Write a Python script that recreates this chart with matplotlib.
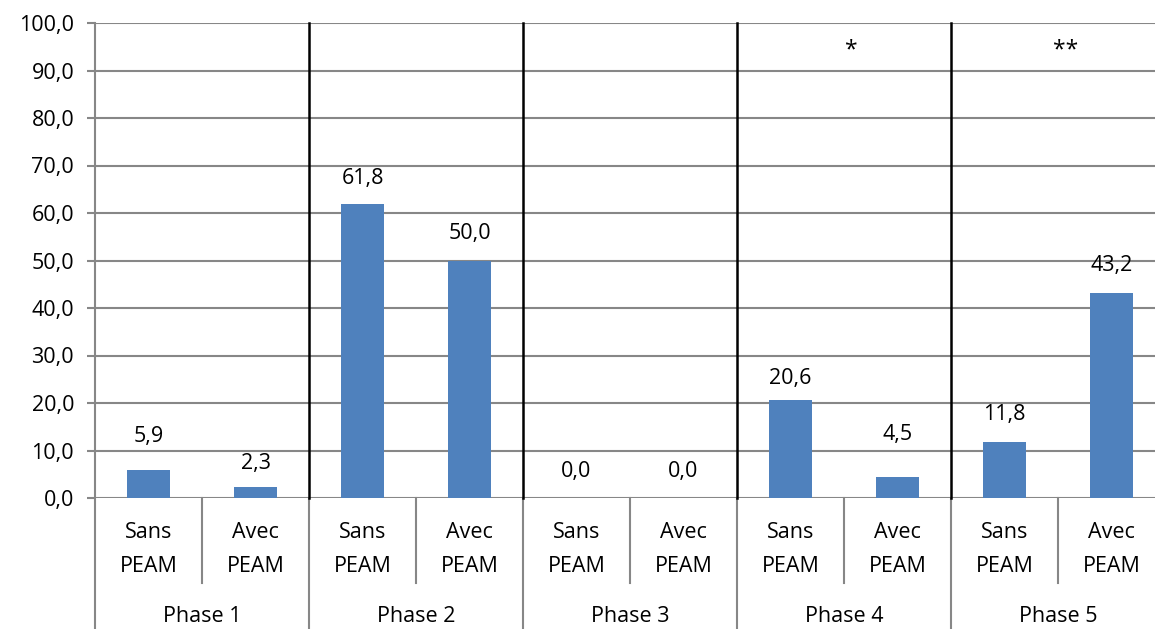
import numpy as np
import matplotlib.pyplot as plt
from matplotlib.ticker import FuncFormatter
import matplotlib.transforms as mtransforms

plt.rcParams['font.family'] = ['Open Sans', 'DejaVu Sans']

phases = ["Phase 1", "Phase 2", "Phase 3", "Phase 4", "Phase 5"]
groups = ["Sans\nPEAM", "Avec\nPEAM"]
values = [5.9, 2.3, 61.8, 50.0, 0.0, 0.0, 20.6, 4.5, 11.8, 43.2]
stars = {3: "*", 4: "**"}

# label offsets above bar tops (pixels), as placed in the original
label_offset = [33, 24, 26, 27, 27, 27, 22, 42, 27, 27]

grid_col = "#878787"
bar_col = "#4F81BD"
fs = 15.5

fig = plt.figure(figsize=(11.55, 6.29), dpi=100)
ax = fig.add_axes([95 / 1155, 131 / 629, 1070 / 1155, 475 / 629])

x = np.arange(len(values))
ax.bar(x, values, width=0.4, color=bar_col, zorder=3)

for xi, v, off in zip(x, values, label_offset):
    ax.annotate(f"{v:.1f}".replace(".", ","), (xi, v), xytext=(0, off),
                textcoords="offset pixels", ha="center", va="center", fontsize=fs)

ax.set_xlim(-0.5, len(values) - 0.5)
ax.set_ylim(0, 100)
ax.set_yticks(np.arange(0, 101, 10))
ax.yaxis.set_major_formatter(FuncFormatter(lambda v, p: f"{v:.1f}".replace(".", ",")))
ax.tick_params(axis="y", length=6, width=1.5, color=grid_col, labelsize=fs, pad=9)
ax.set_xticks([])
ax.grid(axis="y", color=grid_col, linewidth=1.5, zorder=0)
ax.set_axisbelow(True)
for s in ax.spines.values():
    s.set_visible(False)

trans = mtransforms.blended_transform_factory(ax.transData, ax.transAxes)
bottom = -131 / 475

# left axis line
ax.plot([-0.5, -0.5], [bottom, 1], transform=trans, color=grid_col, lw=1.5, clip_on=False)

for i, ph in enumerate(phases):
    left = 2 * i - 0.5
    if i > 0:
        # black separator inside the plot, gray one below
        ax.plot([left, left], [0, 1], transform=trans, color="black", lw=1.8, clip_on=False, zorder=4)
        ax.plot([left, left], [bottom, 0], transform=trans, color=grid_col, lw=1.5, clip_on=False)
    mid = 2 * i + 0.5
    ax.plot([mid, mid], [-85 / 475, 0], transform=trans, color=grid_col, lw=1.5, clip_on=False)
    for j, g in enumerate(groups):
        top, bot = g.split("\n")
        ax.text(2 * i + j, -34 / 475, top, transform=trans, ha="center", va="center", fontsize=fs)
        ax.text(2 * i + j, -68 / 475, bot, transform=trans, ha="center", va="center", fontsize=fs)
    ax.text(2 * i + 0.5, -118 / 475, ph, transform=trans, ha="center", va="center", fontsize=fs)
    if i in stars:
        ax.text(2 * i + 0.57, 94.3, stars[i], ha="center", va="center", fontsize=fs + 1)

fig.savefig("out.png", dpi=100)
